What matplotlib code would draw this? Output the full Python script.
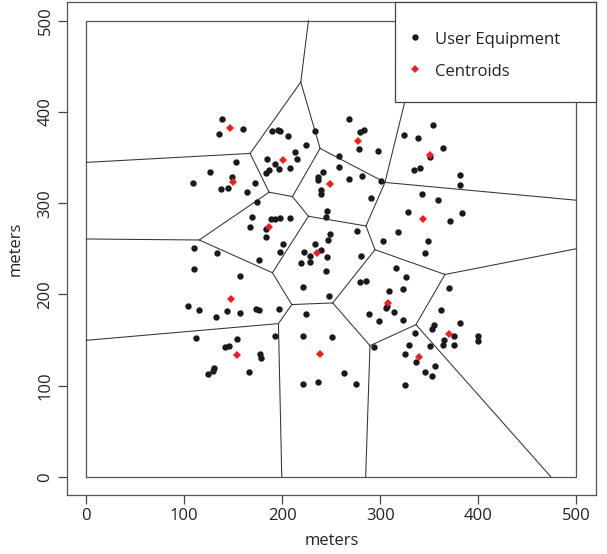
import matplotlib
matplotlib.use("Agg")
import matplotlib.pyplot as plt
from matplotlib.patches import Rectangle

plt.rcParams['font.family'] = ['Open Sans', 'DejaVu Sans']

# ---- data: user equipment positions (meters)
ue_x = [138.3, 160.3, 135.5, 189.9, 195.7, 197.4, 184.1, 152.9, 192.3, 126.4,
        186.8, 183.1, 196.7, 148.8, 108.4, 171.9, 137.6, 144.4, 164.4, 173.9,
        168.8, 188.9, 192.9, 197.7, 167.5, 183.1, 183.4,
        267.7, 233.4, 205.9, 283.6, 279.6, 278.2, 297.2, 224.5, 213.3, 215.0,
        208.2, 258.2, 258.2, 241.5, 236.4, 236.8, 268.0, 281.6, 301.0, 239.2,
        239.5, 290.8, 245.9, 244.6, 208.2, 249.0, 276.2, 246.3, 233.7, 201.1, 302.3,
        354.0, 324.4, 338.0, 364.2, 350.9, 333.9, 340.0, 380.8, 380.8, 342.8,
        359.1, 328.5, 383.5, 371.3, 318.0, 348.2,
        110.1, 133.8, 176.6, 198.0, 109.4, 156.3, 103.9, 115.2, 132.1, 143.7,
        157.3, 172.9, 176.6, 196.7, 112.1, 154.2, 141.0, 145.4, 192.3, 177.0,
        178.3, 130.1, 129.1, 124.0, 166.1,
        222.5, 239.2, 228.6, 245.9, 279.9, 219.1, 227.9, 244.9, 279.2, 285.7,
        220.8, 247.6, 224.2, 288.7, 298.6, 220.8, 250.4, 293.8, 262.6, 236.8,
        220.8, 275.5,
        345.5, 316.3, 326.5, 309.1, 323.4, 306.4, 305.7, 314.2, 369.6, 362.1,
        323.1, 381.5, 354.6, 352.3, 335.6, 375.0, 364.8, 363.8, 375.0, 399.2,
        399.8, 329.5, 350.6, 324.8, 336.0, 355.7, 345.5, 352.9, 325.1]
ue_y = [392.3, 381.3, 375.8, 378.7, 380.6, 379.5, 347.9, 345.0, 342.8, 334.4,
        336.2, 332.9, 337.3, 328.9, 321.9, 322.3, 315.7, 316.4, 312.4, 301.4,
        284.9, 282.7, 282.7, 283.8, 273.9, 272.0, 263.2,
        392.7, 379.1, 373.2, 380.6, 378.0, 359.3, 357.1, 363.7, 356.0, 348.3,
        338.8, 351.2, 339.9, 334.4, 328.9, 325.2, 327.0, 330.0, 324.5, 314.2,
        310.2, 306.1, 291.5, 284.5, 284.1, 266.2, 269.8, 259.2, 255.2, 254.8, 258.5,
        386.1, 374.7, 371.4, 360.0, 350.5, 336.6, 338.8, 331.1, 320.4, 309.8,
        303.2, 290.4, 289.6, 280.8, 268.0, 258.5,
        250.8, 244.9, 237.2, 246.7, 227.7, 220.0, 187.7, 183.3, 175.6, 182.2,
        180.0, 184.0, 182.6, 184.0, 152.5, 151.4, 142.2, 143.3, 154.3, 134.2,
        130.1, 119.5, 115.8, 112.9, 114.7,
        246.7, 248.9, 241.6, 240.5, 242.3, 234.6, 235.4, 225.5, 213.4, 214.8,
        207.9, 198.3, 178.2, 178.5, 171.2, 154.3, 153.2, 142.2, 114.0, 103.4,
        101.2, 101.9,
        244.9, 228.4, 219.2, 204.2, 206.4, 187.7, 185.1, 180.7, 207.5, 182.6,
        171.9, 169.0, 166.1, 162.4, 157.6, 154.3, 149.9, 144.8, 144.8, 154.0,
        148.8, 144.1, 143.3, 134.2, 125.4, 121.0, 114.4, 110.0, 100.4]

# ---- data: centroids
cen_x = [146.1, 149.8, 186.2, 201.1, 277.2, 248.3, 350.2, 343.4, 147.8, 153.9,
         235.1, 238.5, 308.1, 370.3, 339.4]
cen_y = [382.8, 323.4, 274.2, 347.6, 368.1, 320.8, 352.7, 283.0, 194.7, 133.1,
         244.9, 134.5, 191.0, 156.9, 131.6]

# ---- data: Voronoi tessellation (vertices and edges), bounded by the area
area = [0, 500]
vor_x = [167.1, 218.8, 238.5, 186.5, 210.3, 304.7, 285.3, 226.6, 115.2, 189.9,
         209.6, 196.0, 251.4, 294.5, 365.9, 289.4, 336.3,
         0.0, 226.6, 345.2, 500.0, 500.0, 0.0, 0.0, 199.4, 285.0, 473.9]
vor_y = [354.5, 432.7, 360.0, 312.0, 307.2, 322.7, 275.0, 285.6, 259.6, 223.7,
         188.8, 167.9, 190.6, 249.0, 221.8, 143.7, 166.8,
         344.7, 500.0, 500.0, 303.2, 250.0, 260.7, 149.6, 0.0, 0.0, 0.0]
vor_edges = [(17, 0), (0, 1), (1, 18), (1, 2), (0, 3), (3, 4), (2, 4), (2, 5),
             (5, 19), (5, 20), (5, 6), (6, 7), (7, 4), (6, 13), (13, 14),
             (14, 21), (13, 12), (12, 15), (15, 16), (16, 14), (16, 26),
             (15, 25), (3, 8), (8, 22), (8, 9), (7, 9), (9, 10), (10, 11),
             (11, 23), (11, 24), (10, 12)]

ticks = [0, 100, 200, 300, 400, 500]
legend_labels = ["User Equipment", "Centroids"]

fig = plt.figure(figsize=(6.07, 5.54), dpi=100)
ax = fig.add_axes([0.1099, 0.1065, 0.8720, 0.8890])

line_col = '#333333'
# boundary rectangle
ax.plot([area[0], area[1], area[1], area[0], area[0]],
        [area[0], area[0], area[1], area[1], area[0]],
        color='#555555', lw=0.9, zorder=1)
for a, b in vor_edges:
    ax.plot([vor_x[a], vor_x[b]], [vor_y[a], vor_y[b]], color=line_col,
            lw=0.75, zorder=1)

dot_ms = 4.6
dia_ms = 3.8
ax.plot(ue_x, ue_y, 'o', color='#1a1a1a', markersize=dot_ms, mew=0, zorder=3)
ax.plot(cen_x, cen_y, 'D', color='#f01e1e', markersize=dia_ms, mew=0, zorder=4)

ax.set_xlim(-20, 520)
ax.set_ylim(-20, 520)
ax.set_xticks(ticks)
ax.set_yticks(ticks)
ax.tick_params(direction='out', length=6.5, width=0.9, color='#444444',
               labelsize=12, labelcolor='#222222', pad=3)
for lab in ax.get_yticklabels():
    lab.set_rotation(90)
    lab.set_va('center')
for s in ax.spines.values():
    s.set_color('#555555')
    s.set_linewidth(0.9)
ax.set_xlabel('meters', fontsize=12, color='#222222', labelpad=6)
ax.set_ylabel('meters', fontsize=12, color='#222222', labelpad=10)

# legend box (top right corner of the plot region)
ax.add_patch(Rectangle((0.621, 0.7986), 0.379, 0.2014, transform=ax.transAxes,
                       facecolor='white', edgecolor='#444444', lw=0.9,
                       zorder=10, clip_on=False))
ax.plot([0.658], [0.9306], 'o', color='#1a1a1a', markersize=dot_ms, mew=0,
        transform=ax.transAxes, zorder=11, clip_on=False)
ax.plot([0.658], [0.8643], 'D', color='#f01e1e', markersize=dia_ms, mew=0,
        transform=ax.transAxes, zorder=11, clip_on=False)
ax.text(0.6958, 0.9164, legend_labels[0], transform=ax.transAxes,
        fontsize=12, color='#222222', va='baseline', ha='left', zorder=11)
ax.text(0.6958, 0.8502, legend_labels[1], transform=ax.transAxes,
        fontsize=12, color='#222222', va='baseline', ha='left', zorder=11)

fig.savefig('out.png', dpi=100)
